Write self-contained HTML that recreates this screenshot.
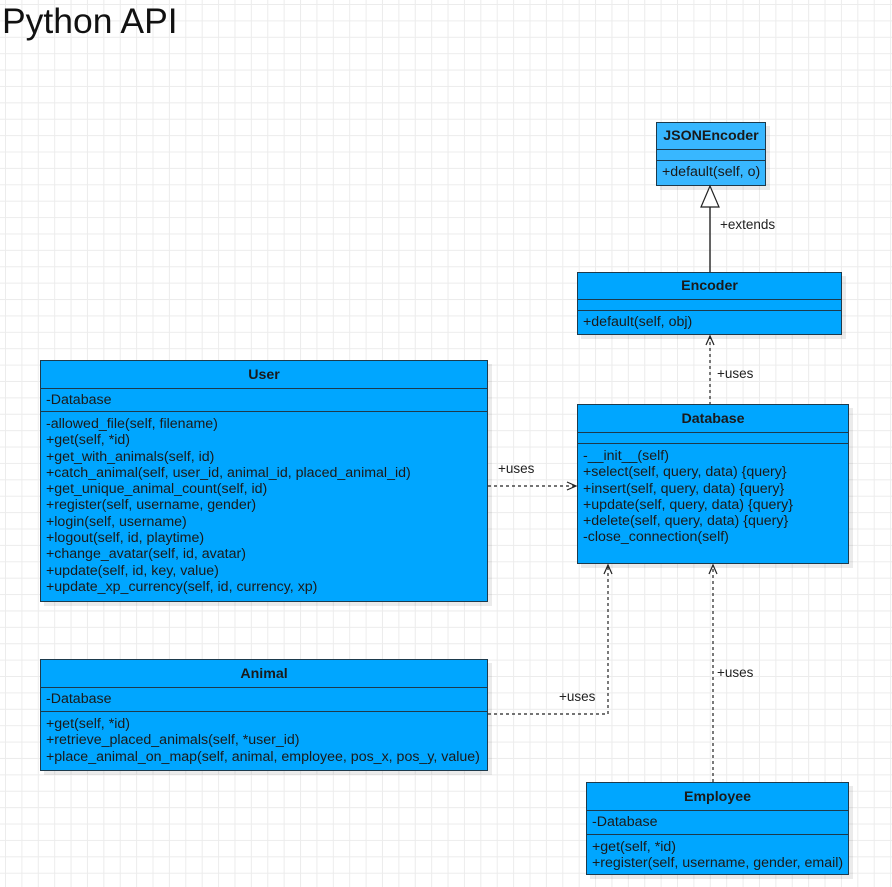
<!DOCTYPE html>
<html><head><meta charset="utf-8"><style>
*{margin:0;padding:0;box-sizing:border-box}
body{width:892px;height:887px;position:relative;overflow:hidden;background:#fff;
background-image:linear-gradient(#ececec 1px,transparent 1px),linear-gradient(90deg,#ececec 1px,transparent 1px);
background-size:16.4px 16.4px;background-position:5px 4px;font-family:"Liberation Sans",sans-serif;color:#1a1a1a}
.t{position:absolute;left:2px;top:1px;font-size:35.5px;color:#111}
.c{position:absolute;background:#00a6ff;border:1px solid #1d3a4c;box-shadow:4px 4px 0 rgba(0,0,0,0.08);font-size:14.2px}
.c .h{font-weight:bold;text-align:center;border-bottom:1px solid #1d3a4c}
.c .a{border-bottom:1px solid #1d3a4c;padding-left:5px}
.c .m{padding-left:5px;line-height:16.3px;padding-top:4px;white-space:nowrap}
.lbl{position:absolute;font-size:13.5px;color:#222}
</style></head><body>
<div class="t">Python API</div>

<div class="c" style="left:656px;top:122px;width:110px;height:64px;background:#38b7ff">
<div class="h" style="height:27px;line-height:27px">JSONEncoder</div>
<div class="a" style="height:11px"></div>
<div class="m" style="padding-top:3px">+default(self, o)</div></div>

<div class="c" style="left:577px;top:272px;width:265px;height:63px">
<div class="h" style="height:27px;line-height:27px">Encoder</div>
<div class="a" style="height:11px"></div>
<div class="m" style="padding-top:3px">+default(self, obj)</div></div>

<div class="c" style="left:40px;top:360px;width:448px;height:242px">
<div class="h" style="height:28px;line-height:28px">User</div>
<div class="a" style="height:23px;line-height:22px">-Database</div>
<div class="m">-allowed_file(self, filename)<br>+get(self, *id)<br>+get_with_animals(self, id)<br>+catch_animal(self, user_id, animal_id, placed_animal_id)<br>+get_unique_animal_count(self, id)<br>+register(self, username, gender)<br>+login(self, username)<br>+logout(self, id, playtime)<br>+change_avatar(self, id, avatar)<br>+update(self, id, key, value)<br>+update_xp_currency(self, id, currency, xp)</div></div>

<div class="c" style="left:577px;top:404px;width:272px;height:160px">
<div class="h" style="height:28px;line-height:28px">Database</div>
<div class="a" style="height:11px"></div>
<div class="m">-__init__(self)<br>+select(self, query, data) {query}<br>+insert(self, query, data) {query}<br>+update(self, query, data) {query}<br>+delete(self, query, data) {query}<br>-close_connection(self)</div></div>

<div class="c" style="left:40px;top:659px;width:448px;height:112px">
<div class="h" style="height:28px;line-height:28px">Animal</div>
<div class="a" style="height:24px;line-height:23px">-Database</div>
<div class="m">+get(self, *id)<br>+retrieve_placed_animals(self, *user_id)<br>+place_animal_on_map(self, animal, employee, pos_x, pos_y, value)</div></div>

<div class="c" style="left:586px;top:782px;width:263px;height:93px">
<div class="h" style="height:28px;line-height:28px">Employee</div>
<div class="a" style="height:24px;line-height:23px">-Database</div>
<div class="m">+get(self, *id)<br>+register(self, username, gender, email)</div></div>

<svg width="892" height="887" style="position:absolute;left:0;top:0" fill="none" stroke="#222" stroke-width="1.2">
<line x1="710" y1="207" x2="710" y2="272" stroke="#333" stroke-width="1.5"/>
<polygon points="710,186 701,207 719,207" fill="#fff" stroke="#222"/>
<g stroke-dasharray="3,3">
<line x1="710" y1="336" x2="710" y2="404"/>
<line x1="488" y1="486" x2="576" y2="486"/>
<polyline points="488,714 608,714 608,565"/>
<line x1="713" y1="782" x2="713" y2="565"/>
</g>
<polyline points="706,345 710,336 714,345"/>
<polyline points="567,482 576,486 567,490"/>
<polyline points="604,574 608,565 612,574"/>
<polyline points="709,574 713,565 717,574"/>
</svg>
<div class="lbl" style="left:720px;top:217px">+extends</div>
<div class="lbl" style="left:717px;top:366px">+uses</div>
<div class="lbl" style="left:498px;top:461px">+uses</div>
<div class="lbl" style="left:559px;top:689px">+uses</div>
<div class="lbl" style="left:717px;top:665px">+uses</div>
</body></html>
